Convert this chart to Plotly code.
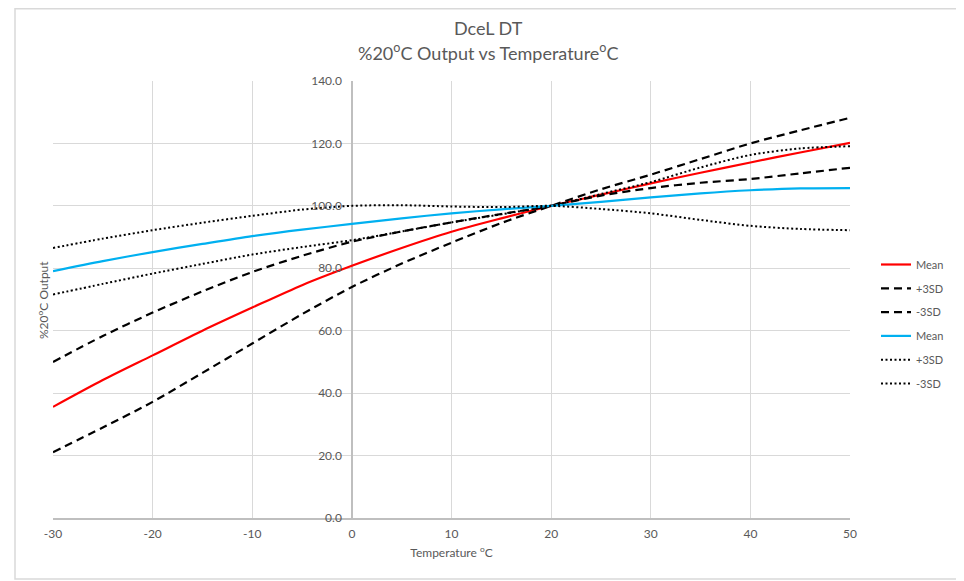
import plotly.graph_objects as go

temps = [-30, -25, -20, -15, -10, -5, 0, 5, 10, 15, 20, 25, 30, 35, 40, 45, 50]

red_mean = [35.6, 44.2, 52.1, 60.0, 67.4, 74.6, 80.8, 86.5, 91.7, 96.0, 100.0, 103.6, 107.2, 110.6, 113.9, 117.1, 120.2]
red_p3sd = [50.0, 58.3, 65.8, 72.6, 78.8, 84.0, 88.5, 91.8, 94.7, 97.4, 100.0, 103.3, 105.7, 107.4, 108.6, 110.4, 112.2]
red_m3sd = [21.1, 29.0, 37.2, 46.5, 55.9, 65.3, 74.0, 81.5, 88.2, 94.5, 100.0, 105.3, 110.0, 115.0, 120.0, 124.2, 128.2]

blue_mean = [79.1, 82.3, 85.2, 87.8, 90.3, 92.4, 94.2, 96.0, 97.6, 98.9, 100.0, 101.3, 102.7, 104.0, 105.0, 105.6, 105.7]
blue_p3sd = [86.5, 89.5, 92.2, 94.6, 96.8, 98.8, 100.0, 100.2, 99.8, 99.6, 100.0, 99.0, 97.6, 95.5, 93.6, 92.6, 92.2]
blue_m3sd = [71.6, 75.0, 78.3, 81.4, 84.4, 86.8, 89.0, 91.8, 94.7, 97.3, 100.0, 103.8, 107.6, 112.3, 116.3, 118.4, 119.1]

y_ticks = [0, 20, 40, 60, 80, 100, 120, 140]
x_ticks = [-30, -20, -10, 0, 10, 20, 30, 40, 50]

FONT = "Lato"
GREY = "#595959"

series = [
    ("Mean", red_mean, "#FF0000", "solid", 2.2),
    ("+3SD", red_p3sd, "#000000", "8px,5px", 2.2),
    ("-3SD", red_m3sd, "#000000", "8px,5px", 2.2),
    ("Mean", blue_mean, "#00B0F0", "solid", 2.2),
    ("+3SD", blue_p3sd, "#000000", "2px,2.5px", 2.0),
    ("-3SD", blue_m3sd, "#000000", "2px,2.5px", 2.0),
]

# plot area in figure pixels (page is offset by the 8px body margin)
L, R, T, B = 45, 842, 73, 510
W, H = R - L, B - T


def px(fx):
    return (fx - L) / W


def py(fy):
    return (B - fy) / H


fig = go.Figure()
for i, (name, vals, col, dash, w) in enumerate(series):
    fig.add_trace(go.Scatter(
        x=temps, y=vals, name=name, mode="lines",
        line=dict(color=col, dash=dash, width=w, shape="spline", smoothing=0.8),
        legendgroup=f"g{i}",
    ))

fig.update_layout(
    width=964, height=581,
    margin=dict(l=L, r=964 - R, t=T, b=581 - B),
    paper_bgcolor="white", plot_bgcolor="white",
    font=dict(family=FONT, color=GREY, size=12),
    xaxis=dict(
        range=[-30, 50], tickvals=x_ticks, ticktext=[str(v) for v in x_ticks],
        showgrid=True, gridcolor="#d9d9d9", gridwidth=1,
        zeroline=True, zerolinecolor="#bfbfbf", zerolinewidth=1.5,
        showline=True, linecolor="#bfbfbf", linewidth=1.5,
        ticks="", ticklabelstandoff=4, tickfont=dict(size=12, color=GREY),
        title=dict(text="Temperature <sup>o</sup>C", font=dict(size=12, color=GREY), standoff=8),
    ),
    yaxis=dict(
        range=[0, 140], tickvals=y_ticks, ticktext=[f"{v:.1f}" for v in y_ticks],
        anchor="free", position=0.375,
        showgrid=True, gridcolor="#d9d9d9", gridwidth=1,
        zeroline=False, showline=False,
        ticks="", ticklabelstandoff=10, tickfont=dict(size=12, color=GREY),
    ),
    legend=dict(
        x=px(868), y=py(242), xanchor="left", yanchor="top",
        font=dict(size=11, color=GREY), tracegroupgap=4.8,
        bgcolor="rgba(0,0,0,0)",
    ),
    showlegend=True,
)

fig.add_annotation(
    text="DceL DT", xref="paper", yref="paper", x=px(480), y=py(20),
    xanchor="center", yanchor="middle", showarrow=False,
    font=dict(size=18, color=GREY, family=FONT),
)
fig.add_annotation(
    text="%20<sup>o</sup>C Output vs Temperature<sup>o</sup>C",
    xref="paper", yref="paper", x=px(480), y=py(44),
    xanchor="center", yanchor="middle", showarrow=False,
    font=dict(size=18, color=GREY, family=FONT),
)
fig.add_annotation(
    text="%20<sup>o</sup>C Output", textangle=-90,
    xref="paper", yref="paper", x=px(35), y=py(292),
    xanchor="center", yanchor="middle", showarrow=False,
    font=dict(size=12, color=GREY, family=FONT),
)

fig.add_shape(
    type="rect", xref="paper", yref="paper",
    x0=px(7), x1=px(954), y0=py(571), y1=py(0.75),
    line=dict(color="#d9d9d9", width=1.5), fillcolor="rgba(0,0,0,0)", layer="below",
)

fig.write_html("out.html")
